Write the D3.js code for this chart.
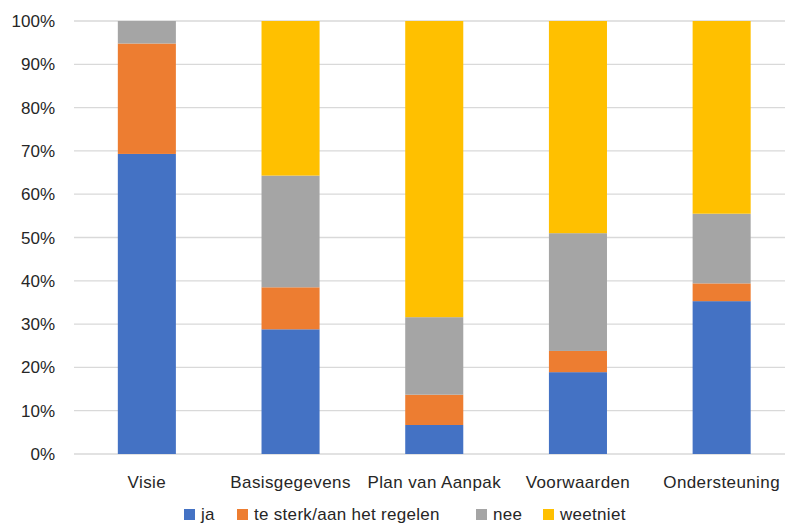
<!DOCTYPE html>
<html><head><meta charset="utf-8">
<script src="https://cdn.jsdelivr.net/npm/d3@7"></script>
<style>body{margin:0;background:#fff}text{font-family:"Liberation Sans",Arial,sans-serif;fill:#262626}</style>
</head><body><svg id="c" width="785" height="525"></svg>
<script>
const categories = ["Visie","Basisgegevens","Plan van Aanpak","Voorwaarden","Ondersteuning"];
const seriesNames = ["ja","te sterk/aan het regelen","nee","weetniet"];
const ja = [69.3, 28.8, 6.7, 18.9, 35.3];
const teSterk = [25.5, 9.7, 7.0, 4.9, 4.1];
const nee = [5.2, 25.8, 17.9, 27.2, 16.1];
const weetniet = [0, 35.7, 68.4, 49.0, 44.5];
const yTicks = [0,10,20,30,40,50,60,70,80,90,100];
const colors = ["#4472C4","#ED7D31","#A5A5A5","#FFC000"];

const rows = categories.map((c,i)=>({cat:c, ja:ja[i], ts:teSterk[i], nee:nee[i], wn:weetniet[i]}));
const keys = ["ja","ts","nee","wn"];
const stack = d3.stack().keys(keys)(rows);

const svg = d3.select("#c");
const x = d3.scaleBand().domain(categories).range([75, 793.5]).paddingInner(0.596).paddingOuter(0.298);
const y = d3.scaleLinear().domain([0,100]).range([454, 21]);

svg.append("g").selectAll("line").data(yTicks).join("line")
  .attr("x1",74).attr("x2",785).attr("y1",d=>y(d)).attr("y2",d=>y(d))
  .attr("stroke","#d9d9d9").attr("stroke-width",1.3);

svg.append("g").selectAll("text").data(yTicks).join("text")
  .attr("x",55).attr("y",d=>y(d)+6).attr("text-anchor","end")
  .attr("font-size",17).text(d=>d+"%");

svg.append("g").selectAll("g").data(stack).join("g").attr("fill",(d,i)=>colors[i])
  .selectAll("rect").data(d=>d).join("rect")
  .attr("x",d=>x(d.data.cat)).attr("width",x.bandwidth())
  .attr("y",d=>y(d[1])).attr("height",d=>Math.max(0,y(d[0])-y(d[1])));

svg.append("g").selectAll("text").data(categories).join("text")
  .attr("x",d=>x(d)+x.bandwidth()/2).attr("y",488).attr("text-anchor","middle")
  .attr("font-size",17).attr("letter-spacing",0.4).text(d=>d);

const legX = [184, 237, 476, 543];
const lg = svg.append("g").selectAll("g").data(seriesNames).join("g")
  .attr("transform",(d,i)=>`translate(${legX[i]},0)`);
lg.append("rect").attr("x",0).attr("y",509).attr("width",11).attr("height",11).attr("fill",(d,i)=>colors[i]);
lg.append("text").attr("x",17).attr("y",520).attr("font-size",17).attr("letter-spacing",0.3).text(d=>d);
</script></body></html>
